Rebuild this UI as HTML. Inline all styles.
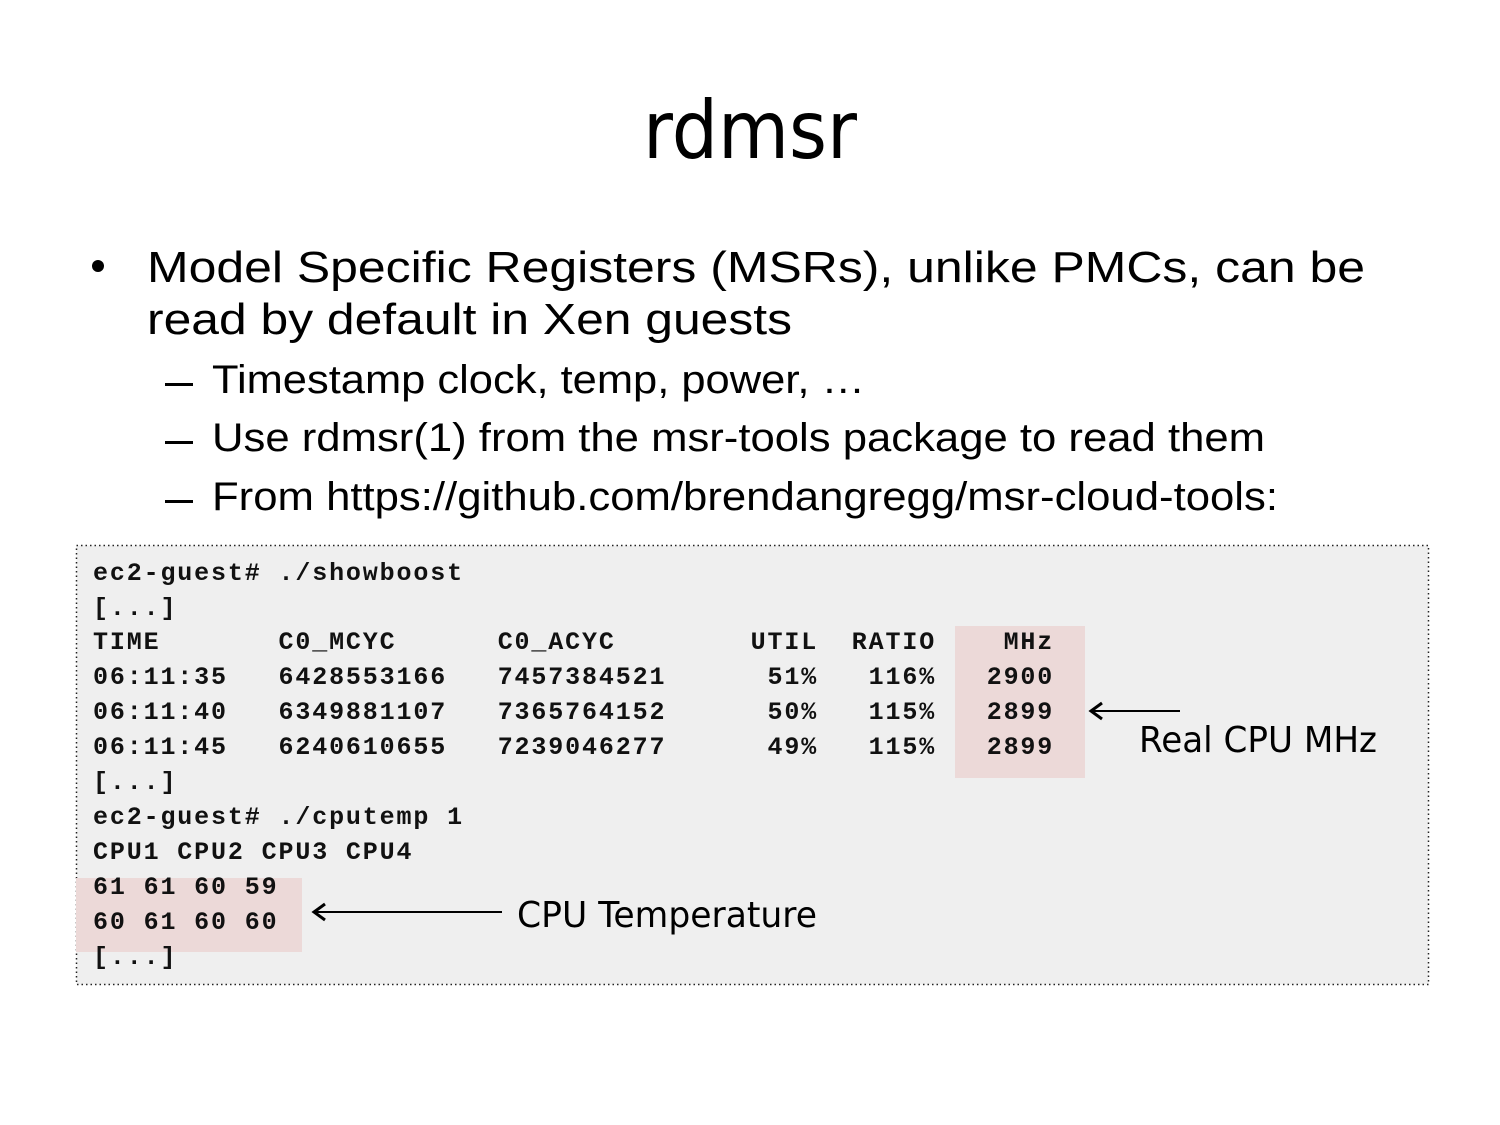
<!DOCTYPE html>
<html><head><meta charset="utf-8"><style>
html,body{margin:0;padding:0;background:#fff}
svg{display:block}
.m{font-family:"Liberation Mono",monospace;font-weight:bold;font-size:25px;letter-spacing:1.86px;fill:#111}
.a{font-family:"Liberation Sans",sans-serif;fill:#000}
.c{font-family:"DejaVu Sans","Liberation Sans",sans-serif;fill:#000}
</style></head><body>
<svg width="1500" height="1125" viewBox="0 0 1500 1125" xmlns="http://www.w3.org/2000/svg">
<rect width="1500" height="1125" fill="#fff"/>
<text class="c" x="643" y="158" font-size="80" textLength="214" lengthAdjust="spacingAndGlyphs">rdmsr</text>
<circle cx="98" cy="266" r="6" fill="#000"/>
<text class="a" x="147" y="282" font-size="44" textLength="1218" lengthAdjust="spacingAndGlyphs">Model Specific Registers (MSRs), unlike PMCs, can be</text>
<text class="a" x="147" y="334" font-size="44" textLength="645" lengthAdjust="spacingAndGlyphs">read by default in Xen guests</text>
<rect x="165" y="383" width="28" height="3" fill="#000"/>
<rect x="165" y="441" width="28" height="3" fill="#000"/>
<rect x="165" y="500" width="28" height="3" fill="#000"/>
<text class="a" x="212" y="393" font-size="40" textLength="653" lengthAdjust="spacingAndGlyphs">Timestamp clock, temp, power, …</text>
<text class="a" x="212" y="451" font-size="40" textLength="1053" lengthAdjust="spacingAndGlyphs">Use rdmsr(1) from the msr-tools package to read them</text>
<text class="a" x="212" y="510" font-size="40" textLength="1066" lengthAdjust="spacingAndGlyphs">From https://github.com/brendangregg/msr-cloud-tools:</text>

<rect x="76.5" y="545.5" width="1352" height="439" fill="#efefef" stroke="#222" stroke-width="1.5" stroke-dasharray="1.5 3"/>
<rect x="955" y="626" width="130" height="152" fill="#ecd9d8"/>
<rect x="76" y="878" width="226" height="74" fill="#ecd9d8"/>

<g class="m">
<text x="93" y="580">ec2-guest#&#160;./showboost</text>
<text x="93" y="615">[...]</text>
<text x="93" y="649">TIME&#160;&#160;&#160;&#160;&#160;&#160;&#160;C0_MCYC&#160;&#160;&#160;&#160;&#160;&#160;C0_ACYC&#160;&#160;&#160;&#160;&#160;&#160;&#160;&#160;UTIL&#160;&#160;RATIO&#160;&#160;&#160;&#160;MHz</text>
<text x="93" y="684">06:11:35&#160;&#160;&#160;6428553166&#160;&#160;&#160;7457384521&#160;&#160;&#160;&#160;&#160;&#160;51%&#160;&#160;&#160;116%&#160;&#160;&#160;2900</text>
<text x="93" y="719">06:11:40&#160;&#160;&#160;6349881107&#160;&#160;&#160;7365764152&#160;&#160;&#160;&#160;&#160;&#160;50%&#160;&#160;&#160;115%&#160;&#160;&#160;2899</text>
<text x="93" y="754">06:11:45&#160;&#160;&#160;6240610655&#160;&#160;&#160;7239046277&#160;&#160;&#160;&#160;&#160;&#160;49%&#160;&#160;&#160;115%&#160;&#160;&#160;2899</text>
<text x="93" y="789">[...]</text>
<text x="93" y="824">ec2-guest#&#160;./cputemp&#160;1</text>
<text x="93" y="859">CPU1&#160;CPU2&#160;CPU3&#160;CPU4</text>
<text x="93" y="894">61&#160;61&#160;60&#160;59</text>
<text x="93" y="929">60&#160;61&#160;60&#160;60</text>
<text x="93" y="964">[...]</text>
</g>

<line x1="1092" y1="711" x2="1180" y2="711" stroke="#000" stroke-width="2"/>
<polyline points="1102,703 1091,711 1102,719" fill="none" stroke="#000" stroke-width="3"/>
<text class="c" x="1139" y="752" font-size="36" textLength="238" lengthAdjust="spacingAndGlyphs">Real CPU MHz</text>

<line x1="315" y1="912" x2="502" y2="912" stroke="#000" stroke-width="2"/>
<polyline points="325,904 314,912 325,920" fill="none" stroke="#000" stroke-width="3"/>
<text class="c" x="517" y="927" font-size="36" textLength="300" lengthAdjust="spacingAndGlyphs">CPU Temperature</text>
</svg>
</body></html>
